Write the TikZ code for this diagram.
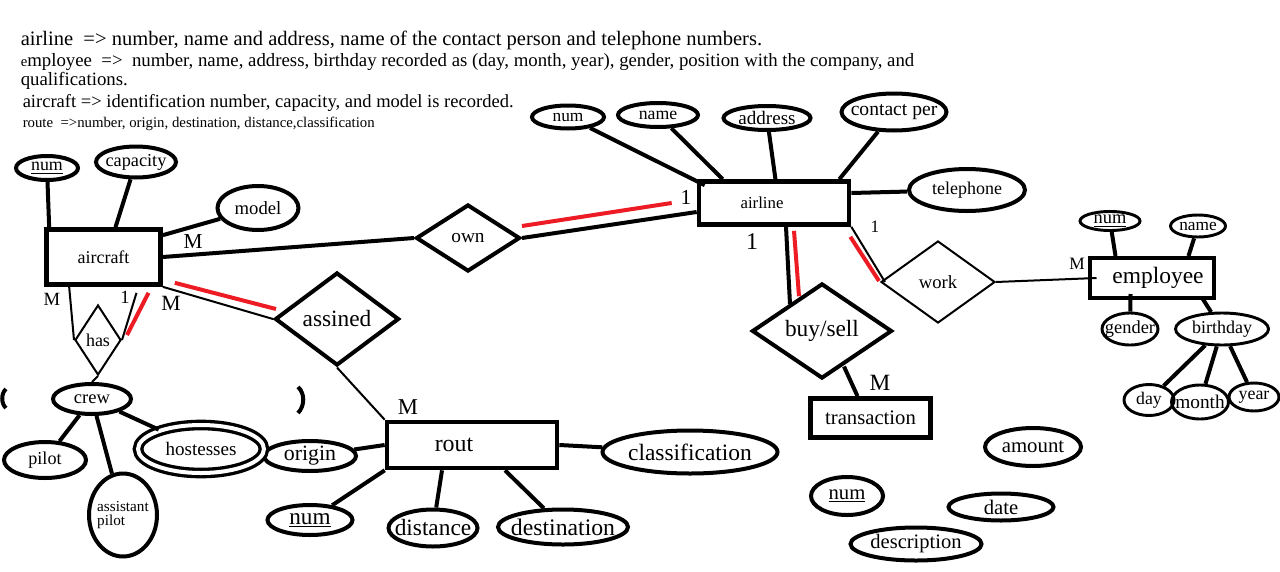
\documentclass[tikz,border=0pt]{standalone}
\usepackage{fontspec}
\setmainfont{Liberation Serif}
\usetikzlibrary{shapes.geometric,calc}
\definecolor{paintred}{RGB}{237,28,36}
\tikzset{
  wh/.style 2 args={minimum width=#1*0.75pt,minimum height=#2*0.75pt},
  fs/.style={font=\fontsize{#1}{#1}\selectfont},
  entity/.style={draw,rectangle,line width=3.5pt,inner sep=0pt},
  attr/.style={draw,ellipse,line width=3pt,inner xsep=-6pt,inner ysep=0pt},
  smallattr/.style={attr,line width=2.2pt},
  rel/.style={draw,diamond,line width=3pt,inner sep=0pt},
  thinrel/.style={rel,line width=1.5pt},
  link/.style={line width=3pt},
  thinlink/.style={line width=1.5pt},
  redlink/.style={line width=3pt,draw=paintred},
  card/.style={inner sep=0pt},
  note/.style={anchor=base west,inner sep=0pt}
}

\begin{document}
\begin{tikzpicture}[x=0.75pt,y=-0.75pt]
  \useasboundingbox (0,0) rectangle (1280,571);

  % requirements
  \node[note,fs=15.4] (t1) at (20.5,45) {airline~~=> number, name and address, name of the contact person and telephone numbers.};
  \node[note,fs=14.1] (t2) at (20.5,66) {{\fontsize{11}{11}\selectfont e}mployee~~=>~~number, name, address, birthday recorded as (day, month, year), gender, position with the company, and};
  \node[note,fs=14.1] (t3) at (20.5,85) {qualifications.};
  \node[note,fs=13.9] (t4) at (22.5,107) {aircraft => identification number, capacity, and model is recorded.};
  \node[note,fs=11.1] (t5) at (22.5,127) {route~~=>number, origin, destination, distance,classification};

  % aircraft and crew
  \node[entity,wh={114}{55},fs=13.5] (aircraft) at (103.5,257) {aircraft};
  \node[attr,wh={62}{24},fs=13.4] (anum) at (47,168) {\underline{num}};
  \node[attr,wh={80}{31},fs=13.7] (acap) at (136,162) {capacity};
  \node[attr,wh={81}{44},fs=14] (amodel) at (258,208) {model};
  \node[thinrel,wh={46}{70},fs=13.5] (has) at (98,340) {has};
  \node[attr,wh={78}{30},fs=13.9] (crew) at (92,399) {crew};
  \node[attr,wh={82}{36},fs=13.6] (pilot) at (45,460) {pilot};
  \node[attr,wh={68}{83},fs=11.4] (asst) at (123,515) {\makebox[0pt]{\shortstack[l]{assistant\\pilot}}};

  % route
  \node[entity,wh={170}{46},fs=17.9] (rout) at (472,445) {rout\hspace*{27pt}};
  \node[rel,wh={124}{93},fs=17.5] (assined) at (337,319) {assined};
  \node[attr,wh={92}{30},fs=16.4] (origin) at (310,456) {origin};
  \node[attr,wh={85}{30},fs=17.4] (rnum) at (310,520) {\underline{num}};
  \node[attr,wh={89}{37},fs=17.5] (dist) at (433,528) {distance};
  \node[attr,wh={130}{35},fs=17.8] (dest) at (563,527) {destination};
  \node[attr,wh={175}{43},fs=17.6] (class) at (690,452) {classification};
  \node[attr,double,line width=2.5pt,double distance=3pt,wh={126}{48},fs=14.3] (host) at (201,449) {hostesses};

  % airline
  \node[rel,wh={104}{67},fs=14.5] (own) at (468,238) {own};
  \node[entity,wh={150}{43},fs=12.6] (airline) at (774,203) {airline\hspace*{18pt}};
  \node[attr,wh={72}{23},fs=13] (lnum) at (568,117) {num};
  \node[attr,wh={80}{24},fs=13.3] (lname) at (658,115) {name};
  \node[attr,wh={87}{24},fs=14.3] (laddr) at (767,118) {address};
  \node[attr,wh={105}{37},fs=14.7] (lcont) at (894,112) {contact per};
  \node[attr,wh={116}{42},fs=13.5] (ltel) at (967,190) {telephone};

  % transaction
  \node[rel,wh={140}{90},fs=17.5] (buy) at (822,331) {buy/sell};
  \node[entity,wh={120}{39},fs=15.5] (trans) at (870.5,418) {transaction};
  \node[attr,wh={96}{38},fs=15.6] (tamount) at (1033,447) {amount};
  \node[attr,wh={72}{38},fs=15.5] (tnum) at (847,496) {\underline{num}};
  \node[attr,wh={105}{27},fs=15.5] (tdate) at (1001,507) {date};
  \node[attr,wh={131}{33},fs=15.4] (tdesc) at (916,544) {description};

  % employee
  \node[thinrel,wh={114}{82},fs=14] (work) at (938,282) {work};
  \node[entity,line width=3pt,wh={124}{40},fs=17.6] (employee) at (1151.5,278) {\hspace*{9.75pt}employee};
  \node[smallattr,wh={60}{19},fs=13.8] (enum) at (1110,221) {\underline{num}};
  \node[smallattr,wh={55}{22},fs=13] (ename) at (1198,226) {name};
  \node[smallattr,wh={56}{32},fs=13.8] (egender) at (1130,329) {gender};
  \node[smallattr,wh={93}{32},fs=13.5] (ebirth) at (1222,329) {birthday};
  \node[smallattr,wh={50}{31},fs=13.3] (eday) at (1149,400) {day};
  \node[smallattr,wh={57}{34},fs=14.5] (emonth) at (1200,402) {month};
  \node[smallattr,wh={50}{28},fs=13.4] (eyear) at (1254,397) {year};

  % cardinalities
  \node[card,fs=16] (mown) at (193,242) {M};
  \node[card,fs=16.3] (massined) at (171,303) {M};
  \node[card,fs=14] (mhas) at (52,299) {M};
  \node[card,fs=14] (onehas) at (125,297) {1};
  \node[card,fs=17] (mrout) at (408,407) {M};
  \node[card,fs=16] (oneown) at (686,197) {1};
  \node[card,fs=18] (onebuy) at (752,242) {1};
  \node[card,fs=13] (onework) at (875,227) {1};
  \node[card,fs=13] (memp) at (1077,264) {M};
  \node[card,fs=17.5] (mtrans) at (880,383) {M};

  % attribute links
  \draw[link] (anum) -- ($(aircraft.north west)+(5,0)$);
  \draw[link] (acap) -- ($(aircraft.north)+(12,0)$);
  \draw[link] (amodel) -- ($(aircraft.north east)+(0,8)$);
  \draw[link] (crew) -- (pilot);
  \draw[link] (crew) -- (asst);
  \draw[link] (crew) -- (host);
  \draw[link] (origin) -- (rout.west);
  \draw[link] (rnum) -- (rout.south west);
  \draw[link] ($(rout.south)+(-30,0)$) -- (dist);
  \draw[link] ($(rout.south)+(33,0)$) -- (dest);
  \draw[link] (rout.east) -- (class);
  \draw[link] (lnum) -- ($(airline.north west)+(8,6)$);
  \draw[link] (lname) -- ($(airline.north west)+(26,0)$);
  \draw[link] (laddr) -- ($(airline.north)+(2,4)$);
  \draw[link] (lcont) -- ($(airline.north east)+(-12,0)$);
  \draw[link] (ltel) -- ($(airline.east)+(0,-10)$);
  \draw[link] (enum) -- ($(employee.north west)+(28,0)$);
  \draw[link] (ename) -- ($(employee.north)+(37,0)$);
  \draw[link] (egender) -- ($(employee.south)+(-21,-6)$);
  \draw[link] (ebirth) -- ($(employee.south)+(50,-3)$);
  \draw[link] (ebirth) -- (eday);
  \draw[link] (ebirth) -- (emonth);
  \draw[link] (ebirth) -- (eyear);

  % relationship links
  \draw[link] (aircraft.east) -- (own.west);
  \draw[link] (own.east) -- ($(airline.west)+(0,9)$);
  \draw[redlink] ($(own.east)+(0,-12)$) -- ($(airline.west)+(-25,0)$);
  \draw[thinlink] (aircraft.south east) -- (assined.west);
  \draw[redlink] ($(aircraft.south east)+(12,-4)$) -- ($(assined.west)+(3,-10)$);
  \draw[thinlink] (assined.south) -- (rout.north west);
  \draw[thinlink] ($(aircraft.south west)+(25,0)$) -- (has.west);
  \draw[thinlink] ($(aircraft.south)+(33,6)$) -- (has.east);
  \draw[redlink] ($(aircraft.south)+(45,6)$) -- ($(has.east)+(5,-5)$);
  \draw[thinlink] (has.south) -- (crew.north);
  \draw[link] ($(airline.south)+(12,0)$) -- ($(buy.north west)+(4,-2)$);
  \draw[redlink] ($(airline.south)+(20,4)$) -- ($(buy.north west)+(13,-10)$);
  \draw[link] ($(buy.south)+(22,-14)$) -- ($(trans.north)+(-13,0)$);
  \draw[thinlink] (airline.south east) -- ($(work.west)+(5,0)$);
  \draw[redlink] ($(airline.south east)+(-1,10)$) -- ($(work.west)+(-1,-1)$);
  \draw[thinlink] (work.east) -- ($(employee.west)+(9,0)$);

  % leftover strokes
  \draw[link] (6,389) .. controls (1,393) and (1,404) .. (6,408);
  \draw[link] (298,387) .. controls (305,393) and (305,406) .. (298,413);
\end{tikzpicture}
\end{document}
